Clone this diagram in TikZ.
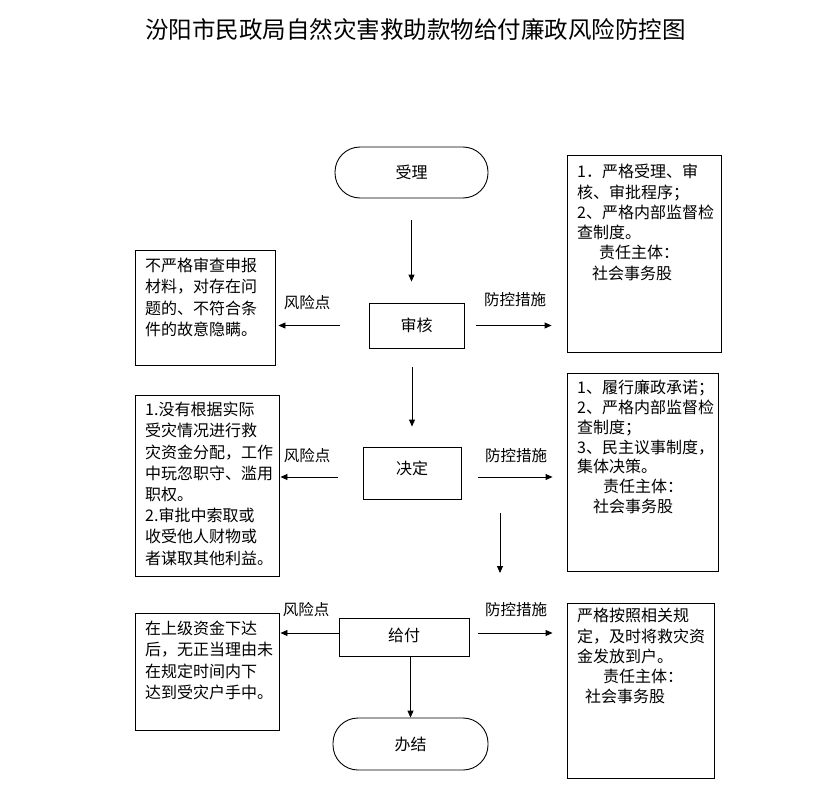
\documentclass[tikz,border=0pt]{standalone}
\usepackage{fontspec}
\setmainfont{Noto Sans CJK SC}
\usepackage{tikz}
\usetikzlibrary{arrows.meta,calc}
\tikzset{%
  >={Triangle[width=6pt,length=7pt]},
  % Specifications for style of nodes:
            step box/.style = {rectangle, draw=black, line width=0.9pt,
                               inner sep=0pt, font=\fontsize{16pt}{20pt}\selectfont},
            end box/.style  = {rectangle, rounded corners=25pt, draw=black,
                               line width=0.9pt, inner sep=0pt,
                               font=\fontsize{16pt}{20pt}\selectfont},
            note box/.style = {rectangle, draw=black, line width=0.9pt, inner sep=0pt},
            note text/.style = {anchor=north west, inner sep=0pt, align=left},
            risk text/.style = {note text, font=\fontsize{16pt}{21.2pt}\selectfont},
            ctrl text/.style = {note text, font=\fontsize{16pt}{20.3pt}\selectfont},
            tag/.style = {inner sep=0pt, font=\fontsize{15.5pt}{18pt}\selectfont},
            line/.style = {->, line width=0.9pt}
                           }

\begin{document}
\begin{tikzpicture}[x=1pt, y=-1pt]
                    \useasboundingbox[fill=white] (0,0) rectangle (823,795);

                    \node (title) [inner sep=0pt, font=\fontsize{23.5pt}{26pt}\selectfont] at (415.5,30) {汾阳市民政局自然灾害救助款物给付廉政风险防控图};

                    % main flow
                    \node (accept)  [end box, minimum width=153pt, minimum height=51pt]  at (411.5,172.5) {受理};
                    \node (review)  [step box, minimum width=95pt, minimum height=45pt]  at (416.5,325.5) {审核};
                    \node (decide)  [step box, minimum width=98pt, minimum height=52pt]  at (412,473) {\raisebox{10pt}{决定}};
                    \node (payout)  [step box, minimum width=130pt, minimum height=38pt] at (404,637) {\raisebox{4pt}{给付}};
                    \node (finish)  [end box, minimum width=155pt, minimum height=52pt]  at (410.5,744) {办结};

                    % risk points
                    \node (risk1) [note box, minimum width=140pt, minimum height=115pt] at (205,307.5) {};
                    \node (risk2) [note box, minimum width=144pt, minimum height=181pt] at (207,485.5) {};
                    \node (risk3) [note box, minimum width=144pt, minimum height=117pt] at (207,671.5) {};
                    \node (risk1t) [risk text] at (145,258) {不严格审查申报\\材料，对存在问\\题的、不符合条\\件的故意隐瞒。};
                    \node (risk2t) [risk text] at (145,402) {1.没有根据实际\\受灾情况进行救\\灾资金分配，工作\\中玩忽职守、滥用\\职权。\\2.审批中索取或\\收受他人财物或\\者谋取其他利益。};
                    \node (risk3t) [risk text] at (145,621) {在上级资金下达\\后，无正当理由未\\在规定时间内下\\达到受灾户手中。};

                    % control measures
                    \node (ctrl1) [note box, minimum width=154pt, minimum height=197pt] at (644,253.5) {};
                    \node (ctrl2) [note box, minimum width=151pt, minimum height=198pt] at (642.5,472) {};
                    \node (ctrl3) [note box, minimum width=147pt, minimum height=175pt] at (640.5,690.5) {};
                    \node (ctrl1t) [ctrl text] at (577,164) {1．严格受理、审\\核、审批程序；\\2、严格内部监督检\\查制度。\\\hspace*{22pt}责任主体：\\\hspace*{15pt}社会事务股};
                    \node (ctrl2t) [ctrl text, font=\fontsize{16pt}{19.8pt}\selectfont] at (577,380) {1、履行廉政承诺；\\2、严格内部监督检\\查制度；\\3、民主议事制度，\\集体决策。\\\hspace*{26pt}责任主体：\\\hspace*{16pt}社会事务股};
                    \node (ctrl3t) [ctrl text] at (577,608) {严格按照相关规\\定，及时将救灾资\\金发放到户。\\\hspace*{26pt}责任主体：\\\hspace*{8pt}社会事务股};

                    % arrow labels
                    \node (rtag1) [tag] at (307,303) {风险点};
                    \node (rtag2) [tag] at (307,456) {风险点};
                    \node (rtag3) [tag] at (306,610) {风险点};
                    \node (ctag1) [tag] at (515,300) {防控措施};
                    \node (ctag2) [tag] at (516,456) {防控措施};
                    \node (ctag3) [tag] at (516,610) {防控措施};

                    \coordinate (stray1) at (500,513);
                    \coordinate (stray2) at (500,573);

                    \draw[line, shorten <=22pt, shorten >=21pt] (accept.south) -- (accept.south |- review.north);
                    \draw[line, shorten <=19pt, shorten >=20pt] (decide.north |- review.south) -- (decide.north);
                    \draw[line] (stray1) -- (stray2);
                    \draw[line] (finish.north |- payout.south) -- (finish.north);

                    \draw[line, shorten <=29pt, shorten >=3pt]  (review.west) -- (review.west -| risk1.east);
                    \draw[line, shorten <=25pt, shorten >=1pt]  ([yshift=-4pt]decide.west) -- ([yshift=-4pt]decide.west -| risk2.east);
                    \draw[line, shorten >=1pt]                  ([yshift=4pt]payout.west) -- ([yshift=4pt]payout.west -| risk3.east);

                    \draw[line, shorten <=12pt, shorten >=15pt] (review.east) -- (review.east -| ctrl1.west);
                    \draw[line, shorten <=17pt, shorten >=14pt] ([yshift=-4pt]decide.east) -- ([yshift=-4pt]decide.east -| ctrl2.west);
                    \draw[line, shorten <=9pt, shorten >=14pt]  ([yshift=4pt]payout.east) -- ([yshift=4pt]payout.east -| ctrl3.west);
                \end{tikzpicture}
\end{document}
